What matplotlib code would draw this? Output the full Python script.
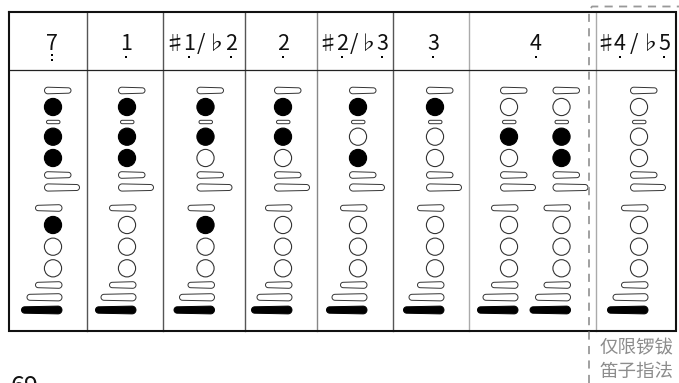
import matplotlib
matplotlib.use('Agg')
import matplotlib.pyplot as plt
from matplotlib.patches import Circle, Polygon
import numpy as np

plt.rcParams['font.family'] = ['Noto Sans CJK SC', 'DejaVu Sans']

# header text of each column: (glyph, low dots)
notes = [
    [('7', 2)],
    [('1', 1)],
    [('♯', 0), ('1', 1), ('/', 0), ('♭', 0), ('2', 1)],
    [('2', 1)],
    [('♯', 0), ('2', 1), ('/', 0), ('♭', 0), ('3', 1)],
    [('3', 1)],
    [('4', 1)],
    [('♯', 0), ('4', 1), ('/', 0), ('♭', 0), ('5', 1)],
]

# fingerings, 1 = closed hole
upper_holes = [
    [1, 1, 1], [1, 1, 1], [1, 1, 0], [1, 1, 0], [1, 0, 1], [1, 0, 0],
    [0, 1, 0], [0, 1, 1], [0, 0, 0],
]
lower_holes = [
    [1, 0, 0], [0, 0, 0], [1, 0, 0], [0, 0, 0], [0, 0, 0], [0, 0, 0],
    [0, 0, 0], [0, 0, 0], [0, 0, 0],
]

note_text = ['仅限锣钹', '笛子指法']
page_number = '69'

# layout, in pixels of the picture
col_lines = [86.5, 162.5, 244.5, 316.5, 392.5, 469, 596]
col_colors = ['#555555', '#555555', '#555555', '#888888', '#555555', '#aaaaaa', '#aaaaaa']
head_x = [[51.5], [126], [174, 189, 201.5, 216.5, 231], [282.7],
          [327.7, 341.7, 354, 368.5, 382], [433], [536],
          [605.7, 620, 634, 650, 664]]
finger_x = [53, 127, 205.5, 283, 358, 435, 509, 561.5, 639]
upper_y = [107, 136.7, 158]
lower_y = [225, 246.7, 268.3]
hole_r = 8.6
gray = '#999999'

fig = plt.figure(figsize=(6.79, 3.83), dpi=100)
ax = fig.add_axes([0, 0, 1, 1])
ax.set_xlim(0, 679)
ax.set_ylim(383, 0)
ax.axis('off')


# one key: a bar with round ends of different sizes
def key(x0, x1, y, r0, r1, filled=False):
    a = np.linspace(np.pi / 2, 3 * np.pi / 2, 14)
    left = np.c_[x0 + r0 + r0 * np.cos(a), y + r0 * np.sin(a)]
    right = np.c_[x1 - r1 - r1 * np.cos(a), y - r1 * np.sin(a)]
    pts = np.r_[left, right]
    ax.add_patch(Polygon(pts, closed=True, fc='black' if filled else 'white',
                         ec='#333333' if not filled else 'black', lw=0.7, zorder=3))


def hole(x, y, closed):
    ax.add_patch(Circle((x, y), hole_r, fc='black' if closed else 'white',
                        ec='black' if closed else '#333333', lw=0.8, zorder=3))


# table
for x, c in zip(col_lines, col_colors):
    ax.plot([x, x], [12, 331], color=c, lw=1.0, zorder=1)
ax.plot([9, 676], [69.5, 69.5], color='#222222', lw=0.9, zorder=1)
ax.plot([9, 676, 676, 9, 9], [12, 12, 331, 331, 12], color='#111111', lw=1.5,
        solid_joinstyle='miter', zorder=2)

# dashed bracket
ax.plot([589, 589, 592, 679], [383, 11, 6.5, 6.5], color=gray, lw=1.3,
        dashes=(4.5, 3.5), zorder=4)

# header
for items, xs in zip(notes, head_x):
    for (glyph, dots), x in zip(items, xs):
        size = 15.5 if glyph not in '♯♭' else 14.5
        ax.text(x, 50, glyph, ha='center', va='baseline', fontsize=size, color='#111111')
        if dots == 1:
            ax.plot([x], [57], 's', ms=2.0, color='black', mew=0)
        elif dots == 2:
            ax.plot([x, x], [55, 60], 's', ms=2.0, color='black', mew=0)

# fingerings
for cx, up, low in zip(finger_x, upper_holes, lower_holes):
    key(cx - 8.5, cx + 18, 90.5, 3.3, 2.7)
    for y, closed in zip(upper_y, up):
        hole(cx, y, closed)
    key(cx - 6.5, cx + 7, 122, 1.7, 1.7)
    key(cx - 8.5, cx + 18, 175, 3.3, 2.7)
    key(cx - 8.5, cx + 26.5, 187.5, 3.6, 3.0)
    key(cx - 17.5, cx + 9, 208, 2.7, 3.3)
    for y, closed in zip(lower_y, low):
        hole(cx, y, closed)
    key(cx - 17.5, cx + 9, 285, 2.7, 3.3)
    key(cx - 26, cx + 9, 297.3, 3.0, 3.6)
    key(cx - 31.5, cx + 9, 310, 3.2, 3.9, filled=True)

# side note and cut off page number
for y, line in zip([348, 372], note_text):
    ax.text(636.5, y, line, ha='center', va='center', fontsize=13.3, color='#8c8c8c')
ax.text(11, 394, page_number, ha='left', va='baseline', fontsize=18, color='#111111')

fig.savefig('out.png', dpi=100)
